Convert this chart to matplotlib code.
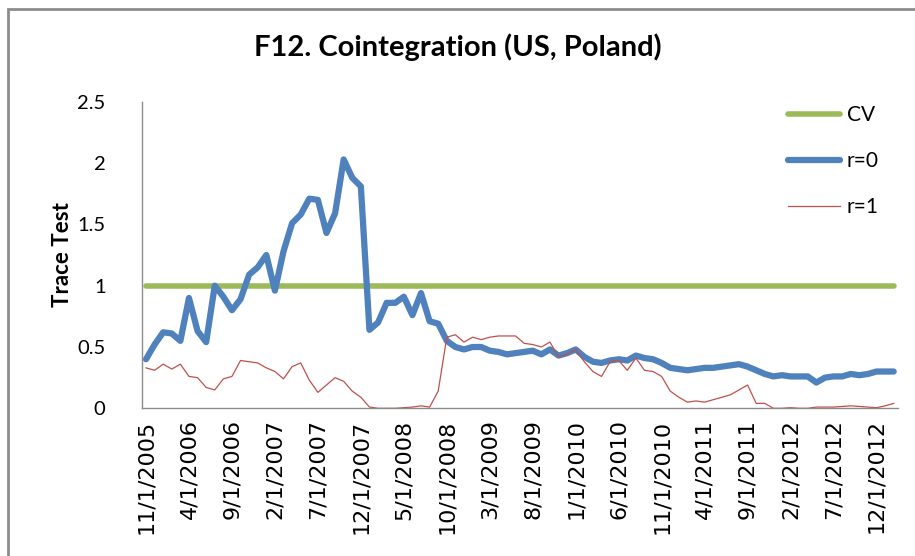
import matplotlib
matplotlib.use("Agg")
import matplotlib.pyplot as plt
from matplotlib.patches import Rectangle
import numpy as np

# monthly observations, 11/1/2005 .. 2/1/2013
r0 = [0.40, 0.52, 0.62, 0.61, 0.55, 0.90, 0.63, 0.54, 1.00, 0.91,
      0.80, 0.89, 1.09, 1.15, 1.25, 0.96, 1.28, 1.51, 1.58, 1.71,
      1.70, 1.43, 1.59, 2.03, 1.88, 1.81, 0.64, 0.70, 0.86, 0.86,
      0.91, 0.76, 0.94, 0.71, 0.69, 0.55, 0.50, 0.48, 0.50, 0.50,
      0.47, 0.46, 0.44, 0.45, 0.46, 0.47, 0.44, 0.48, 0.43, 0.45,
      0.48, 0.42, 0.38, 0.37, 0.39, 0.40, 0.39, 0.43, 0.41, 0.40,
      0.37, 0.33, 0.32, 0.31, 0.32, 0.33, 0.33, 0.34, 0.35, 0.36,
      0.34, 0.31, 0.28, 0.26, 0.27, 0.26, 0.26, 0.26, 0.21, 0.25,
      0.26, 0.26, 0.28, 0.27, 0.28, 0.30, 0.30, 0.30]
r1 = [0.33, 0.31, 0.36, 0.32, 0.36, 0.26, 0.25, 0.17, 0.15, 0.24,
      0.26, 0.39, 0.38, 0.37, 0.33, 0.30, 0.24, 0.34, 0.37, 0.23,
      0.13, 0.19, 0.25, 0.22, 0.14, 0.09, 0.01, 0.00, 0.00, 0.00,
      0.005, 0.01, 0.02, 0.01, 0.14, 0.58, 0.60, 0.54, 0.58, 0.56,
      0.58, 0.59, 0.59, 0.59, 0.53, 0.52, 0.50, 0.54, 0.42, 0.44,
      0.48, 0.38, 0.30, 0.26, 0.38, 0.39, 0.31, 0.41, 0.31, 0.30,
      0.26, 0.14, 0.09, 0.05, 0.06, 0.05, 0.07, 0.09, 0.11, 0.15,
      0.19, 0.04, 0.04, 0.00, 0.00, 0.005, 0.00, 0.00, 0.01, 0.01,
      0.01, 0.015, 0.02, 0.015, 0.01, 0.005, 0.02, 0.04]
cv = 1.0

tick_labels = ["11/1/2005", "4/1/2006", "9/1/2006", "2/1/2007", "7/1/2007",
               "12/1/2007", "5/1/2008", "10/1/2008", "3/1/2009", "8/1/2009",
               "1/1/2010", "6/1/2010", "11/1/2010", "4/1/2011", "9/1/2011",
               "2/1/2012", "7/1/2012", "12/1/2012"]

x = np.arange(len(r0))

fig = plt.figure(figsize=(9.15, 5.56), dpi=100)
ax = fig.add_axes([141.7/915, 1-408.3/556, (898-141.7)/915, (408.3-101.8)/556])

# chart area border (top and left visible)
fig.patches.append(Rectangle((8/915, -0.1), 1.2, (1-9/556)+0.1, transform=fig.transFigure,
                             fill=False, edgecolor="#8c8c8c", linewidth=2))

ax.plot(x, [cv]*len(x), color="#9BBB59", lw=4, solid_capstyle="round", label="CV")
ax.plot(x, r0, color="#4F81BD", lw=4.5, solid_capstyle="round", solid_joinstyle="round", label="r=0")
ax.plot(x, r1, color="#C0504D", lw=0.9, label="r=1")

ax.set_xlim(-0.5, len(x)-0.5)
ax.set_ylim(0, 2.5)
ax.set_yticks([0, 0.5, 1, 1.5, 2, 2.5])
ax.set_yticklabels(["0", "0.5", "1", "1.5", "2", "2.5"], fontfamily="Lato", fontsize=14.5)
ax.set_xticks(x[::5])
ax.set_xticklabels(tick_labels, rotation=90, fontsize=16, fontfamily="DejaVu Sans")
ax.tick_params(length=0, pad=8)
ax.tick_params(axis="y", pad=26)

for s in ["top", "right"]:
    ax.spines[s].set_visible(False)
for s in ["left", "bottom"]:
    ax.spines[s].set_color("#8c8c8c")
    ax.spines[s].set_linewidth(1)

ax.set_ylabel("Trace Test", fontfamily="Lato", fontweight="bold", fontsize=16, labelpad=3)
fig.text(0.5, 1-47/556, "F12. Cointegration (US, Poland)", ha="center", va="center",
         fontfamily="Lato", fontweight="bold", fontsize=21)

leg = ax.legend(loc="upper left", bbox_to_anchor=(0.83, 1.051), frameon=False,
                prop={"family": "Lato", "size": 15}, handlelength=2.5,
                handletextpad=0.3, labelspacing=1.25)

fig.savefig("out.png", dpi=100)
